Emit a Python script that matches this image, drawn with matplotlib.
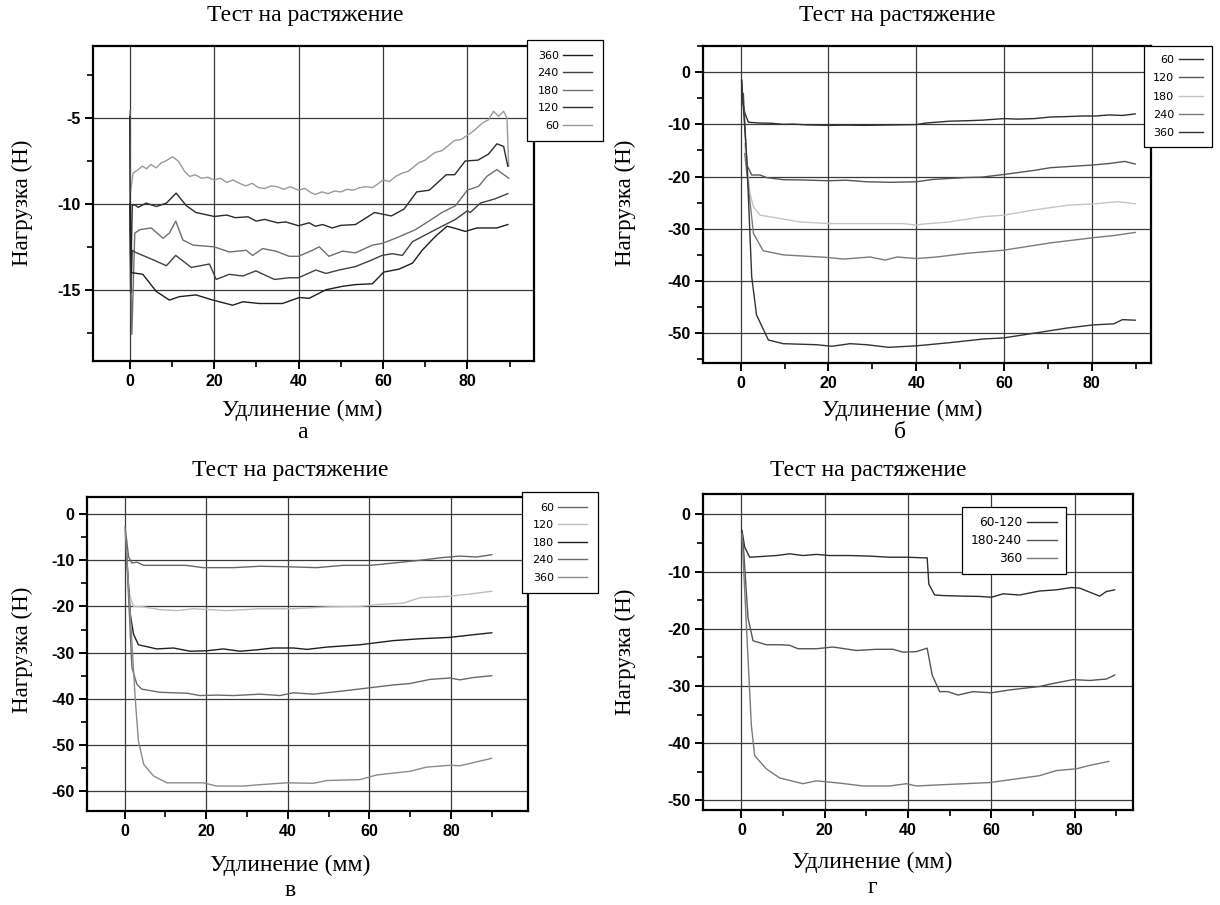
import matplotlib
matplotlib.use("Agg")
import matplotlib.pyplot as plt
from matplotlib.ticker import MultipleLocator

plt.rcParams['axes.unicode_minus'] = False

# ---------------- DATA ----------------
title_text = "Тест на растяжение"
xlabel_text = "Удлинение (мм)"
ylabel_text = "Нагрузка (Н)"
panel_letters = ["а", "б", "в", "г"]

# Panel а
a_labels = ["60", "120", "180", "240", "360"]
a_60 = [(0, -4.6), (0.15, -9.4), (0.8, -8.2), (2, -8.0), (3, -7.8), (4, -7.95), (5, -7.7), (6.3, -7.9),
        (7.5, -7.6), (8.5, -7.5), (10.2, -7.25), (11.5, -7.5), (13, -8.1), (14.2, -8.4), (15.5, -8.3),
        (17, -8.5), (18.5, -8.45), (20, -8.6), (21.5, -8.5), (23, -8.75), (24.5, -8.6), (26, -8.8),
        (27.5, -8.95), (29, -8.8), (30.5, -9.05), (32, -9.1), (33.5, -8.95), (35, -9.0), (36.5, -9.15),
        (38, -9.0), (40, -9.2), (41.5, -9.1), (43, -9.35), (44, -9.45), (45.5, -9.3), (47, -9.4),
        (48.5, -9.25), (50, -9.3), (51.5, -9.15), (53, -9.2), (54.5, -9.05), (56, -9.0), (57.5, -9.05),
        (59, -8.8), (60, -8.6), (61.5, -8.7), (63, -8.4), (64.6, -8.2), (66, -8.1), (67.5, -7.8),
        (68.5, -7.6), (70, -7.45), (71.5, -7.15), (72.4, -7.0), (74, -6.9), (75.5, -6.6), (77, -6.3),
        (78.5, -6.25), (80, -6.0), (81.5, -5.75), (83.5, -5.3), (85, -5.1), (86.2, -4.6), (87.4, -4.9),
        (88.6, -4.6), (89.4, -5.0), (89.8, -7.8)]
a_120 = [(0, -4.9), (0.2, -15.2), (0.6, -10.1), (1.2, -10.05), (2.0, -10.2), (3.9, -9.95), (6.3, -10.15),
         (8.7, -9.95), (11.0, -9.37), (13.4, -10.1), (15.7, -10.5), (20, -10.73), (23, -10.65), (25, -10.8),
         (28, -10.75), (30, -11.0), (32, -10.9), (35, -11.1), (37, -11.05), (40, -11.27), (42.5, -11.1),
         (44, -11.3), (45.7, -11.2), (48, -11.4), (50, -11.25), (53.5, -11.2), (58, -10.5), (60, -10.6),
         (62, -10.7), (65, -10.3), (68, -9.3), (71, -9.2), (75, -8.3), (77, -8.3), (79.5, -7.5),
         (82.5, -7.45), (85, -7.1), (87, -6.5), (88.6, -6.65), (89.6, -7.8)]
a_180 = [(0, -10), (0.5, -17.6), (1.2, -11.7), (2.4, -11.5), (5.1, -11.4), (7.9, -12.0), (9.4, -11.7),
         (10.9, -11.0), (12.6, -12.1), (15, -12.4), (20, -12.5), (23.6, -12.8), (27.6, -12.7), (29.1, -13.0),
         (31.5, -12.6), (34.6, -12.75), (37.8, -13.05), (40, -13.05), (43.3, -12.7), (44.9, -12.5),
         (47.2, -13.05), (50.4, -12.75), (53.5, -12.85), (57.5, -12.4), (59.8, -12.3), (63, -12.0),
         (67.7, -11.5), (70.9, -11.0), (74, -10.5), (77.2, -10.1), (80, -9.2), (82.7, -8.97), (84.6, -8.4),
         (87, -8.0), (89.8, -8.5)]
a_240 = [(0, -10), (0.3, -15.2), (0.6, -12.7), (1.2, -12.8), (5.5, -13.25), (8.7, -13.6), (10.9, -13.0),
         (14.6, -13.7), (18.9, -13.5), (20.5, -14.4), (23.6, -14.1), (26.8, -14.2), (29.9, -13.9),
         (34.3, -14.4), (37.8, -14.3), (40, -14.3), (44.1, -13.85), (46.5, -14.05), (49.6, -13.85),
         (53.5, -13.65), (57.5, -13.25), (59.8, -13.0), (62.2, -12.9), (64.6, -13.0), (67, -12.2),
         (70.1, -11.8), (74, -11.3), (77.2, -10.9), (80, -10.4), (80.7, -10.5), (83.1, -9.95), (86.6, -9.7),
         (89.6, -9.4)]
a_360 = [(0.1, -10), (0.4, -14.0), (3.1, -14.1), (6.3, -15.1), (9.4, -15.6), (11.8, -15.4), (15.7, -15.3),
         (19.7, -15.6), (24.4, -15.9), (26.8, -15.7), (30.7, -15.8), (36.2, -15.8), (40.2, -15.45),
         (42.5, -15.5), (46.5, -15.0), (50.4, -14.8), (53.5, -14.7), (57.5, -14.65), (60.2, -13.97),
         (63.8, -13.8), (67, -13.45), (69.3, -12.7), (72.4, -11.9), (75.2, -11.3), (76.8, -11.4),
         (79.5, -11.6), (82.3, -11.4), (87, -11.4), (89.6, -11.2)]

# Panel б
b_labels = ["60", "120", "180", "240", "360"]
b_60 = [(0.2, -1.5), (0.5, -6), (1.0, -8.0), (1.75, -9.6), (4.4, -9.75), (7, -9.8), (9.7, -10.0), (12, -9.95),
        (15, -10.1), (20, -10.2), (24, -10.15), (28, -10.2), (32, -10.15), (36, -10.1), (40, -10.05),
        (42.2, -9.75), (47.5, -9.4), (52, -9.3), (55, -9.2), (60, -8.9), (63, -9.0), (67, -8.9), (70.5, -8.6),
        (75, -8.5), (78, -8.4), (81, -8.4), (84, -8.2), (87, -8.3), (89.9, -8.0)]
b_120 = [(0.6, -4.1), (1.4, -17.8), (2.5, -19.7), (4.4, -19.7), (5.9, -20.2), (9.7, -20.6), (14, -20.65),
         (20, -20.8), (24, -20.7), (28.7, -21.0), (34, -21.1), (40, -21.0), (43.8, -20.55), (51, -20.2),
         (55, -20.1), (60, -19.6), (67, -18.8), (70.6, -18.3), (80, -17.8), (84, -17.5), (87.5, -17.1),
         (89.9, -17.6)]
b_180 = [(0.9, -13.7), (2.1, -23.2), (2.9, -25.8), (4.4, -27.4), (6.7, -27.7), (13.5, -28.7), (20, -29.0),
         (28.7, -29.0), (37, -29.0), (40, -29.3), (41.5, -29.1), (47.5, -28.7), (55, -27.7), (59.9, -27.4),
         (66.8, -26.4), (74.4, -25.5), (81, -25.2), (86, -24.8), (89.9, -25.2)]
b_240 = [(0.9, -15.6), (2.9, -30.9), (5.1, -34.2), (9.7, -35.0), (20, -35.5), (23.4, -35.8), (29.5, -35.4),
         (32.9, -36.0), (35.6, -35.4), (40, -35.7), (44.7, -35.4), (51.5, -34.7), (59.9, -34.1),
         (70.6, -32.7), (80.4, -31.7), (85, -31.3), (89.9, -30.7)]
b_360 = [(0.2, -1.6), (1.4, -16.9), (2.5, -39.2), (3.6, -46.5), (6.3, -51.3), (9.7, -52.0), (17.3, -52.2),
         (20.8, -52.5), (24.9, -52.0), (28.7, -52.2), (33.7, -52.7), (40.2, -52.4), (47.7, -51.8),
         (55.3, -51.1), (59.9, -50.9), (66.8, -50.0), (74.4, -49.0), (80.4, -48.4), (85, -48.2), (87, -47.4),
         (89.9, -47.5)]

# Panel в
c_labels = ["60", "120", "180", "240", "360"]
c_60 = [(0.15, -2.8), (1.0, -9.3), (1.8, -10.6), (3.0, -10.4), (4.7, -11.1), (8.7, -11.1), (15, -11.1),
        (19.3, -11.6), (26.7, -11.6), (33.2, -11.3), (39.7, -11.4), (47.1, -11.6), (53.6, -11.1),
        (60.2, -11.1), (62.6, -10.9), (65.9, -10.6), (72.4, -10.0), (78.1, -9.4), (82.2, -9.1),
        (86.3, -9.3), (90, -8.8)]
c_120 = [(1.0, -16), (1.4, -18), (2.2, -20.0), (4.7, -20.1), (8.7, -20.7), (12.8, -20.9), (16.9, -20.5),
         (25, -20.9), (33.2, -20.5), (41.4, -20.5), (49.6, -20.1), (57.7, -20.0), (61.8, -19.6),
         (68.3, -19.3), (72.4, -18.1), (79.8, -17.8), (84.7, -17.3), (90, -16.7)]
c_180 = [(0.3, -5.6), (1.4, -21.6), (2.2, -26.0), (3.4, -28.3), (7.9, -29.2), (12, -29.0), (16.1, -29.7),
         (20.2, -29.6), (24.2, -29.2), (28.3, -29.7), (32.4, -29.4), (36.5, -29.0), (41.4, -29.0),
         (44.7, -29.3), (49.6, -28.8), (57.7, -28.3), (65.9, -27.4), (72.4, -27.0), (79.8, -26.7),
         (84.7, -26.2), (90, -25.7)]
c_240 = [(0.6, -10.7), (1.8, -33.2), (3.0, -36.8), (4.2, -37.9), (8.7, -38.6), (15.3, -38.8), (18.5, -39.3),
         (22.6, -39.2), (26.7, -39.3), (33.2, -39.0), (38.1, -39.3), (41.4, -38.7), (46.3, -39.0),
         (53.6, -38.3), (59.3, -37.7), (65.9, -37.0), (69.9, -36.7), (74.9, -35.8), (79.8, -35.5),
         (82.2, -35.9), (85.5, -35.4), (90, -35.0)]
c_360 = [(0.15, -3.5), (1.4, -21.6), (2.6, -39.7), (3.4, -49.1), (4.7, -54.2), (7.1, -56.7), (10.4, -58.2),
         (19.3, -58.2), (22.6, -58.9), (29.1, -58.9), (33.2, -58.6), (39.7, -58.2), (46.3, -58.3),
         (49.6, -57.7), (57.7, -57.5), (61.8, -56.5), (70, -55.7), (74, -54.8), (79.8, -54.4),
         (82.2, -54.5), (90, -52.9)]

# Panel г
d_labels = ["60-120", "180-240", "360"]
d_60_120 = [(0.15, -2.8), (0.8, -5.7), (2.0, -7.5), (5.2, -7.35), (8.4, -7.2), (11.6, -6.9), (14.8, -7.2),
            (18, -7.0), (21.2, -7.2), (26, -7.2), (30.8, -7.3), (35.6, -7.5), (40, -7.5), (43.6, -7.6),
            (44.6, -7.6), (45, -12.2), (46.4, -14.1), (48.4, -14.2), (53.2, -14.3), (57.2, -14.35),
            (60, -14.5), (62.8, -13.9), (66.8, -14.1), (71.6, -13.4), (75.6, -13.2), (79.2, -12.8),
            (81.2, -12.9), (86, -14.3), (87.6, -13.5), (89.6, -13.2)]
d_180_240 = [(0.4, -4.5), (1.6, -18.1), (2.8, -22.1), (6, -22.8), (9.2, -22.8), (11.6, -22.9), (13.6, -23.5),
             (18, -23.5), (22, -23.2), (27.6, -23.8), (32.4, -23.6), (36.4, -23.6), (38.8, -24.1), (42, -24.0),
             (44.6, -23.4), (45.8, -28.1), (47.6, -31.0), (49.6, -31.0), (52, -31.6), (55.6, -31.0),
             (60, -31.2), (64.4, -30.7), (71.6, -30.1), (74, -29.7), (79.6, -28.9), (83.6, -29.05),
             (87.6, -28.8), (89.6, -28.1)]
d_360 = [(0.15, -3.4), (1.2, -19.2), (2.4, -36.9), (3.2, -42.2), (6, -44.5), (9.2, -46.1), (14.8, -47.1),
         (18, -46.6), (23.6, -47.0), (29.2, -47.5), (35.6, -47.5), (39.6, -47.1), (42, -47.5), (47.6, -47.3),
         (59.6, -46.9), (67.6, -46.1), (71.6, -45.7), (75.6, -44.8), (80.4, -44.5), (83.6, -43.9),
         (88.2, -43.2)]

# ---------------- FIGURE ----------------
W, H = 1220, 905
fig = plt.figure(figsize=(W / 100, H / 100), dpi=100)
fig.patch.set_facecolor("white")

SERIF = ["Liberation Serif", "DejaVu Serif"]
TICKFONT = ["Liberation Sans", "DejaVu Sans"]


def px_axes(l, r, t, b):
    return fig.add_axes([l / W, 1 - b / H, (r - l) / W, (b - t) / H])


def style(ax, xlim, ylim, ymaj, ymin):
    ax.set_xlim(*xlim)
    ax.set_ylim(*ylim)
    ax.yaxis.set_major_locator(MultipleLocator(ymaj))
    ax.yaxis.set_minor_locator(MultipleLocator(ymin))
    ax.set_xticks([0, 20, 40, 60, 80])
    ax.set_xticks([10, 30, 50, 70, 90], minor=True)
    ax.grid(True, which="major", color="#3a3a3a", linewidth=0.9)
    ax.set_axisbelow(True)
    for s in ax.spines.values():
        s.set_linewidth(1.6)
        s.set_color("black")
    ax.tick_params(which="major", direction="out", length=6, width=1.4, pad=3,
                   top=False, right=False)
    ax.tick_params(which="minor", direction="out", length=4, width=1.2,
                   top=False, right=False)
    for lab in ax.get_xticklabels() + ax.get_yticklabels():
        lab.set_fontfamily(TICKFONT)
        lab.set_fontweight("bold")
        lab.set_fontsize(11.5)


def draw(ax, series, labels, colors, legend_order, leg_xy, leg_kw=None):
    handles = {}
    for data, lab, col in zip(series, labels, colors):
        xs = [p[0] for p in data]
        ys = [p[1] for p in data]
        ln, = ax.plot(xs, ys, color=col, linewidth=1.0, label=lab)
        handles[lab] = ln
    hs = [handles[k] for k in legend_order]
    kw = dict(loc="upper left", bbox_to_anchor=(leg_xy[0] / W, 1 - leg_xy[1] / H),
              bbox_transform=fig.transFigure, frameon=True, fancybox=False,
              edgecolor="black", framealpha=1, markerfirst=False, borderaxespad=0,
              prop={"family": ["DejaVu Sans"], "size": 8}, handlelength=2.6,
              handletextpad=0.4, labelspacing=0.68, borderpad=0.95)
    if leg_kw:
        kw.update(leg_kw)
    leg = ax.legend(hs, legend_order, **kw)
    leg.get_frame().set_linewidth(0.9)
    leg.set_zorder(10)


def ftext(x, y, s, size=17, rot=0):
    fig.text(x / W, 1 - y / H, s, ha="center", va="center", fontsize=size,
             family=SERIF, rotation=rot)


# Panel а
ax = px_axes(93, 534, 46, 361)
style(ax, (-8.7, 95.8), (-19.15, -0.8), 5, 2.5)
draw(ax, [a_60, a_120, a_180, a_240, a_360], a_labels,
     ["#9a9a9a", "#2b2b2b", "#6e6e6e", "#404040", "#1e1e1e"],
     ["360", "240", "180", "120", "60"], (527, 40))

# Panel б
ax = px_axes(703, 1151, 46, 363)
style(ax, (-8.6, 93.5), (-55.7, 5.0), 10, 5)
draw(ax, [b_60, b_120, b_180, b_240, b_360], b_labels,
     ["#2e2e2e", "#555555", "#c4c4c4", "#7a7a7a", "#333333"],
     ["60", "120", "180", "240", "360"], (1144, 46),
     {"handlelength": 2.2, "borderpad": 0.8, "labelspacing": 0.75})

# Panel в
ax = px_axes(87, 528, 497, 811)
style(ax, (-9.2, 98.9), (-64.3, 3.7), 10, 5)
draw(ax, [c_60, c_120, c_180, c_240, c_360], c_labels,
     ["#666666", "#bdbdbd", "#1e1e1e", "#6a6a6a", "#8a8a8a"],
     ["60", "120", "180", "240", "360"], (522, 492))

# Panel г
ax = px_axes(703, 1133, 494, 810)
style(ax, (-9.2, 94.0), (-51.7, 3.56), 10, 5)
draw(ax, [d_60_120, d_180_240, d_360], d_labels,
     ["#2e2e2e", "#555555", "#7a7a7a"],
     ["60-120", "180-240", "360"], (962, 507),
     {"labelspacing": 0.4, "borderpad": 0.75, "handlelength": 2.4,
      "prop": {"family": ["DejaVu Sans"], "size": 8.8}})

# Texts
ftext(305, 15, title_text)
ftext(897, 15, title_text)
ftext(290, 470, title_text)
ftext(868, 470, title_text)

ftext(302, 410, xlabel_text)
ftext(902, 410, xlabel_text)
ftext(290, 865, xlabel_text)
ftext(872, 862, xlabel_text)

ftext(302, 432, panel_letters[0])
ftext(900, 432, panel_letters[1])
ftext(290, 890, panel_letters[2])
ftext(872, 887, panel_letters[3])

ftext(22, 203, ylabel_text, size=16.5, rot=90)
ftext(625, 203, ylabel_text, size=16.5, rot=90)
ftext(22, 650, ylabel_text, size=16.5, rot=90)
ftext(625, 652, ylabel_text, size=16.5, rot=90)

fig.savefig("out.png", dpi=100, facecolor="white")
